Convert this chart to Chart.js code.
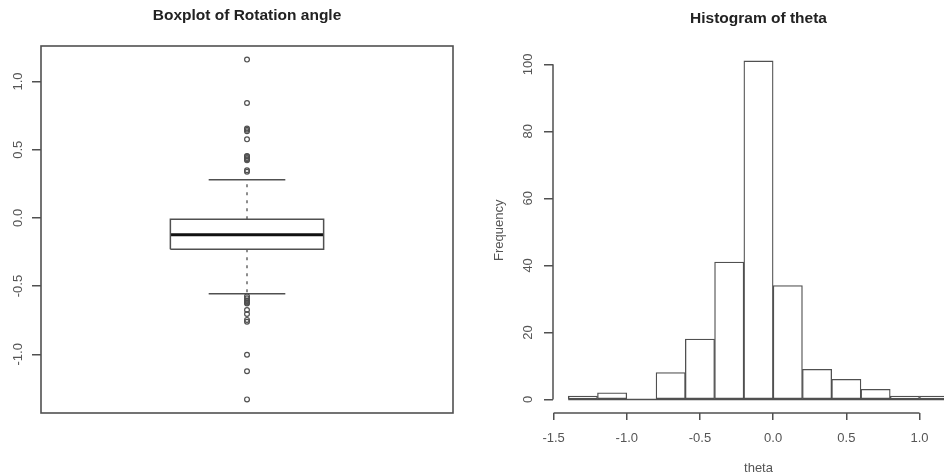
<!DOCTYPE html>
<html>
<head>
<meta charset="utf-8">
<title>Rotation angle</title>
<script src="https://cdn.jsdelivr.net/npm/chart.js@4.4.0/dist/chart.umd.min.js"></script>
<style>
  html, body { margin: 0; padding: 0; background: #fff; }
  #wrap { position: relative; width: 944px; height: 476px; overflow: hidden; }
  #left { position: absolute; left: 0; top: 0; width: 472px; height: 476px; }
  #right { position: absolute; left: 472px; top: 0; width: 472px; height: 476px; overflow: hidden; }
  #right-inner { width: 500px; height: 476px; }
</style>
</head>
<body>
<div id="wrap">
  <div id="left"><canvas id="box-chart"></canvas></div>
  <div id="right"><div id="right-inner"><canvas id="hist-chart"></canvas></div></div>
</div>
<script>
// ---- boxplot data: lower whisker, Q1, median, Q3, upper whisker
var boxStats = [-0.556, -0.229, -0.124, -0.010, 0.280];
var outliersHigh = [1.161, 0.843, 0.656, 0.646, 0.636, 0.576, 0.454, 0.450, 0.439, 0.430, 0.422, 0.349, 0.339];
var outliersLow = [-0.575, -0.590, -0.605, -0.612, -0.620, -0.628, -0.675, -0.705, -0.748, -0.761, -1.003, -1.124, -1.331];
var boxTicks = [-1.0, -0.5, 0.0, 0.5, 1.0];

// ---- histogram data
var histBreaks = [-1.4, -1.2, -1.0, -0.8, -0.6, -0.4, -0.2, 0.0, 0.2, 0.4, 0.6, 0.8, 1.0, 1.2];
var histCounts = [1, 2, 0, 8, 18, 41, 101, 34, 9, 6, 3, 1, 1];
var histXTicks = [-1.5, -1.0, -0.5, 0.0, 0.5, 1.0];
var histYTicks = [0, 20, 40, 60, 80, 100];

var lineColor = '#505050';
var textColor = '#555';
Chart.defaults.font.family = "'Liberation Sans', Arial, Helvetica, sans-serif";
Chart.defaults.font.size = 13;
Chart.defaults.color = textColor;

// R pads the data range by 4% on each side
function padRange(lo, hi) {
  var d = (hi - lo) * 0.04;
  return [lo - d, hi + d];
}
function fixedTicks(list) {
  return function(scale) {
    scale.ticks = list.map(function(v) { return {value: v}; });
  };
}

// ===================== boxplot =====================
var center = 1, boxHalf = 0.186, stapleHalf = 0.093;
var allValues = boxStats.concat(outliersHigh, outliersLow);
var boxRange = padRange(Math.min.apply(null, allValues), Math.max.apply(null, allValues));

var lo = boxStats[0], q1 = boxStats[1], med = boxStats[2], q3 = boxStats[3], hi = boxStats[4];

function seg(points, extra) {
  var ds = {
    data: points,
    showLine: true,
    pointRadius: 0,
    borderColor: lineColor,
    borderWidth: 1.5,
    fill: false
  };
  for (var k in extra) ds[k] = extra[k];
  return ds;
}

var boxFrame = {
  id: 'boxFrame',
  afterDraw: function(chart) {
    var a = chart.chartArea, ctx = chart.ctx;
    ctx.save();
    ctx.strokeStyle = lineColor;
    ctx.lineWidth = 1.6;
    ctx.strokeRect(a.left, a.top, a.right - a.left, a.bottom - a.top);
    ctx.restore();
  }
};

new Chart(document.getElementById('box-chart'), {
  type: 'scatter',
  data: {
    datasets: [
      seg([{x: center - boxHalf, y: q1}, {x: center + boxHalf, y: q1}, {x: center + boxHalf, y: q3},
           {x: center - boxHalf, y: q3}, {x: center - boxHalf, y: q1}]),
      seg([{x: center - boxHalf, y: med}, {x: center + boxHalf, y: med}], {borderWidth: 3, borderColor: '#111'}),
      seg([{x: center, y: q3}, {x: center, y: hi}], {borderDash: [3, 5], borderWidth: 1.3}),
      seg([{x: center, y: q1}, {x: center, y: lo}], {borderDash: [3, 5], borderWidth: 1.3}),
      seg([{x: center - stapleHalf, y: hi}, {x: center + stapleHalf, y: hi}]),
      seg([{x: center - stapleHalf, y: lo}, {x: center + stapleHalf, y: lo}]),
      {
        data: outliersHigh.concat(outliersLow).map(function(v) { return {x: center, y: v}; }),
        pointStyle: 'circle',
        pointRadius: 2.4,
        borderWidth: 1.2,
        borderColor: lineColor,
        backgroundColor: 'rgba(0,0,0,0)'
      }
    ]
  },
  options: {
    responsive: true,
    maintainAspectRatio: false,
    animation: false,
    events: [],
    layout: { padding: { left: 0, right: 19, top: 0, bottom: 63 } },
    plugins: {
      legend: { display: false },
      tooltip: { enabled: false },
      title: {
        display: true,
        text: 'Boxplot of Rotation angle',
        fullSize: false,
        color: '#222',
        font: { size: 15.5, weight: 'bold' },
        padding: { top: 6.7, bottom: 20.7 }
      }
    },
    scales: {
      x: { type: 'linear', min: 0.5, max: 1.5, display: false },
      y: {
        type: 'linear',
        min: boxRange[0],
        max: boxRange[1],
        afterBuildTicks: fixedTicks(boxTicks),
        afterFit: function(scale) { scale.width = 41; },
        border: { display: false },
        grid: { drawOnChartArea: false, drawTicks: true, tickLength: 9, color: lineColor, lineWidth: 1.5 },
        ticks: {
          minRotation: 90, maxRotation: 90, crossAlign: 'center', padding: 2,
          callback: function(v) { return v.toFixed(1); }
        }
      }
    }
  },
  plugins: [boxFrame]
});

// ===================== histogram =====================
var histX = padRange(histBreaks[0], histBreaks[histBreaks.length - 1]);
var histY = padRange(0, Math.max.apply(null, histCounts));

var axisLines = {
  id: 'axisLines',
  afterDraw: function(chart) {
    var x = chart.scales.x, y = chart.scales.y, ctx = chart.ctx;
    ctx.save();
    ctx.strokeStyle = lineColor;
    ctx.lineWidth = 1.5;
    ctx.beginPath();
    ctx.moveTo(x.getPixelForValue(histXTicks[0]), x.top);
    ctx.lineTo(x.getPixelForValue(histXTicks[histXTicks.length - 1]), x.top);
    ctx.moveTo(y.right, y.getPixelForValue(histYTicks[0]));
    ctx.lineTo(y.right, y.getPixelForValue(histYTicks[histYTicks.length - 1]));
    ctx.stroke();
    ctx.restore();
  }
};

new Chart(document.getElementById('hist-chart'), {
  type: 'bar',
  data: {
    datasets: [
      {
        type: 'bar',
        data: histCounts.map(function(c, i) {
          return {x: (histBreaks[i] + histBreaks[i + 1]) / 2, y: c};
        }),
        backgroundColor: '#fff',
        borderColor: lineColor,
        borderWidth: 1.3,
        borderSkipped: false,
        barPercentage: 1,
        categoryPercentage: 1
      },
      {
        type: 'line',
        data: [{x: histBreaks[0], y: 0}, {x: histBreaks[histBreaks.length - 1], y: 0}],
        borderColor: lineColor,
        borderWidth: 1.5,
        pointRadius: 0
      }
    ]
  },
  options: {
    responsive: true,
    maintainAspectRatio: false,
    animation: false,
    events: [],
    layout: { padding: { left: 0, right: 8, top: 0, bottom: 0 } },
    plugins: {
      legend: { display: false },
      tooltip: { enabled: false },
      title: {
        display: true,
        text: 'Histogram of theta',
        fullSize: false,
        color: '#222',
        font: { size: 15.5, weight: 'bold' },
        padding: { top: 9, bottom: 19.8 }
      }
    },
    scales: {
      x: {
        type: 'linear',
        min: histX[0],
        max: histX[1],
        offset: false,
        afterBuildTicks: fixedTicks(histXTicks),
        afterFit: function(scale) { scale.height = 63; },
        border: { display: false },
        grid: { offset: false, drawOnChartArea: false, drawTicks: true, tickLength: 7, color: lineColor, lineWidth: 1.5 },
        ticks: { padding: 11, maxRotation: 0, callback: function(v) { return v.toFixed(1); } },
        title: { display: true, text: 'theta', color: textColor, padding: { top: 0, bottom: 0 } }
      },
      y: {
        type: 'linear',
        min: histY[0],
        max: histY[1],
        afterBuildTicks: fixedTicks(histYTicks),
        afterFit: function(scale) { scale.width = 81; },
        border: { display: false },
        grid: { drawOnChartArea: false, drawTicks: true, tickLength: 9, color: lineColor, lineWidth: 1.5 },
        ticks: {
          minRotation: 90, maxRotation: 90, crossAlign: 'center', padding: 5,
          callback: function(v) { return String(v); }
        },
        title: { display: true, text: 'Frequency', color: textColor, padding: { top: 20, bottom: 0 } }
      }
    }
  },
  plugins: [axisLines]
});
</script>
</body>
</html>
